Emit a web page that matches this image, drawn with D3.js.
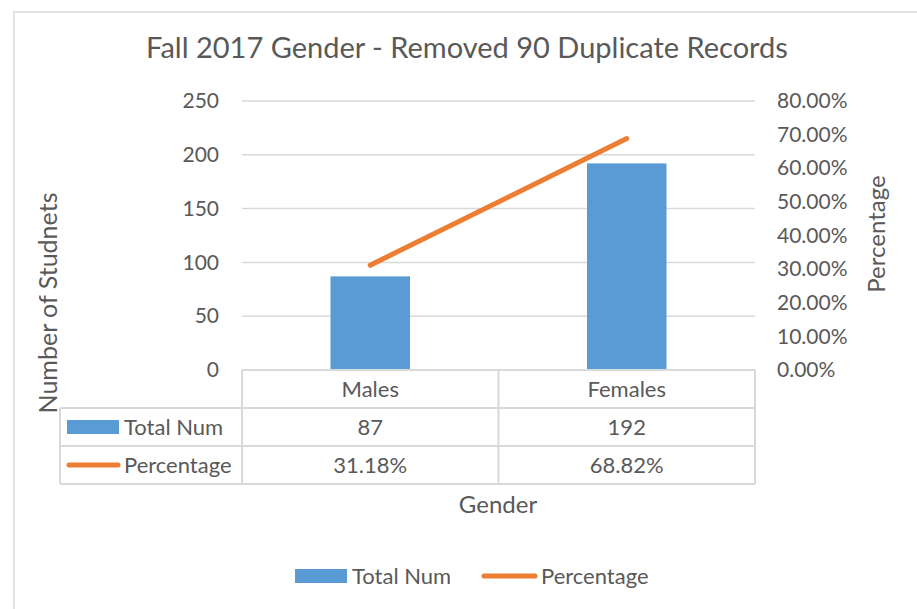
<!DOCTYPE html>
<html>
<head>
<meta charset="utf-8">
<script src="https://cdn.jsdelivr.net/npm/d3@7"></script>
<style>
  body { margin: 0; background: #fff; }
  text { font-family: Lato, "Open Sans", sans-serif; fill: #595959; }
</style>
</head>
<body>
<div class="gender-chart"></div>
<script>
const categories = ['Males', 'Females'];
const totalNum = [87, 192];
const percentage = [0.3118, 0.6882];
const countTicks = [0, 50, 100, 150, 200, 250];
const pctTicks = [0, 0.1, 0.2, 0.3, 0.4, 0.5, 0.6, 0.7, 0.8];
const seriesNames = ['Total Num', 'Percentage'];

const blue = '#5b9bd5';
const orange = '#ed7d31';
const grid = '#d9d9d9';

makeChart();

function makeChart() {
    const outerWidth = 917;
    const outerHeight = 609;
    const plot = {left: 242, right: 755, top: 101, bottom: 370};
    const rowH = 38;
    const tableLeft = 60;
    const labelSize = 22;

    const svg = d3.select('.gender-chart')
                .append('svg')
                .attr('width', outerWidth)
                .attr('height', outerHeight);

    // chart frame
    svg.append('rect')
        .attr('x', 14).attr('y', 12)
        .attr('width', 920).attr('height', 620)
        .attr('fill', 'white')
        .attr('stroke', grid)
        .attr('stroke-width', 1.5);

    const xScale = d3.scaleBand()
                .domain(categories)
                .range([plot.left, plot.right]);
    const yScale = d3.scaleLinear()
                .domain([0, 250])
                .range([plot.bottom, plot.top]);
    const y2Scale = d3.scaleLinear()
                .domain([0, 0.8])
                .range([plot.bottom, plot.top]);

    // gridlines
    svg.append('g')
        .selectAll('line')
        .data(countTicks.filter(d => d > 0))
        .join('line')
        .attr('x1', plot.left).attr('x2', plot.right)
        .attr('y1', d => yScale(d)).attr('y2', d => yScale(d))
        .attr('stroke', grid)
        .attr('stroke-width', 1.5);

    const yAxis = d3.axisLeft(yScale).tickValues(countTicks).tickSize(0).tickPadding(0);
    svg.append('g')
        .attr('transform', 'translate(219,0)')
        .call(yAxis)
        .call(g => g.select('.domain').remove())
        .call(g => g.selectAll('text').attr('font-size', 21).attr('fill', '#595959'));

    const y2Axis = d3.axisRight(y2Scale).tickValues(pctTicks).tickSize(0).tickPadding(0)
                .tickFormat(d => (d * 100).toFixed(2) + '%');
    svg.append('g')
        .attr('transform', 'translate(777,0)')
        .call(y2Axis)
        .call(g => g.select('.domain').remove())
        .call(g => g.selectAll('text').attr('font-size', 21).attr('fill', '#595959'));

    // bars
    const barW = xScale.bandwidth() * 0.31;
    svg.append('g')
        .selectAll('rect')
        .data(categories)
        .join('rect')
        .attr('x', d => xScale(d) + xScale.bandwidth() / 2 - barW / 2)
        .attr('width', barW)
        .attr('y', (d, i) => yScale(totalNum[i]))
        .attr('height', (d, i) => yScale(0) - yScale(totalNum[i]))
        .attr('fill', blue);

    // percentage line
    const line = d3.line()
                .x((d, i) => xScale(categories[i]) + xScale.bandwidth() / 2)
                .y(d => y2Scale(d));
    svg.append('path')
        .datum(percentage)
        .attr('fill', 'none')
        .attr('stroke', orange)
        .attr('stroke-width', 5)
        .attr('stroke-linecap', 'round')
        .attr('d', line);

    // data table
    const table = svg.append('g')
                .attr('fill', 'none')
                .attr('stroke', grid)
                .attr('stroke-width', 2);
    const yRows = [plot.bottom, plot.bottom + rowH, plot.bottom + rowH * 2, plot.bottom + rowH * 3];
    table.append('line').attr('x1', plot.left).attr('x2', plot.right).attr('y1', yRows[0]).attr('y2', yRows[0]);
    yRows.slice(1).forEach(y => {
        table.append('line').attr('x1', tableLeft).attr('x2', plot.right).attr('y1', y).attr('y2', y);
    });
    table.append('line').attr('x1', tableLeft).attr('x2', tableLeft).attr('y1', yRows[1]).attr('y2', yRows[3]);
    [plot.left, plot.left + xScale.bandwidth(), plot.right].forEach(x => {
        table.append('line').attr('x1', x).attr('x2', x).attr('y1', yRows[0]).attr('y2', yRows[3]);
    });

    const cellY = i => yRows[i] + rowH / 2;
    svg.append('g')
        .selectAll('text')
        .data(categories)
        .join('text')
        .attr('x', d => xScale(d) + xScale.bandwidth() / 2)
        .attr('y', cellY(0))
        .attr('dy', '0.35em')
        .attr('text-anchor', 'middle')
        .attr('font-size', labelSize)
        .text(d => d);
    svg.append('g')
        .selectAll('text')
        .data(totalNum)
        .join('text')
        .attr('x', (d, i) => xScale(categories[i]) + xScale.bandwidth() / 2)
        .attr('y', cellY(1))
        .attr('dy', '0.35em')
        .attr('text-anchor', 'middle')
        .attr('font-size', labelSize)
        .text(d => d);
    svg.append('g')
        .selectAll('text')
        .data(percentage)
        .join('text')
        .attr('x', (d, i) => xScale(categories[i]) + xScale.bandwidth() / 2)
        .attr('y', cellY(2))
        .attr('dy', '0.35em')
        .attr('text-anchor', 'middle')
        .attr('font-size', labelSize)
        .text(d => (d * 100).toFixed(2) + '%');

    // table legend keys
    svg.append('rect')
        .attr('x', 67).attr('y', cellY(1) - 7)
        .attr('width', 52).attr('height', 14)
        .attr('fill', blue);
    svg.append('line')
        .attr('x1', 69).attr('x2', 118)
        .attr('y1', cellY(2)).attr('y2', cellY(2))
        .attr('stroke', orange).attr('stroke-width', 5).attr('stroke-linecap', 'round');
    seriesNames.forEach((name, i) => {
        svg.append('text')
            .attr('x', 124).attr('y', cellY(i + 1))
            .attr('dy', '0.35em')
            .attr('font-size', labelSize)
            .text(name);
    });

    // titles
    svg.append('text')
        .attr('x', 467).attr('y', 48)
        .attr('dy', '0.35em')
        .attr('text-anchor', 'middle')
        .attr('font-size', 29)
        .text('Fall 2017 Gender - Removed 90 Duplicate Records');

    svg.append('text')
        .attr('transform', 'translate(48,303) rotate(-90)')
        .attr('dy', '0.35em')
        .attr('text-anchor', 'middle')
        .attr('font-size', 25)
        .text('Number of Studnets');

    svg.append('text')
        .attr('transform', 'translate(877,234) rotate(-90)')
        .attr('dy', '0.35em')
        .attr('text-anchor', 'middle')
        .attr('font-size', 24)
        .text('Percentage');

    svg.append('text')
        .attr('x', 498).attr('y', 505)
        .attr('dy', '0.35em')
        .attr('text-anchor', 'middle')
        .attr('font-size', 24)
        .text('Gender');

    // bottom legend
    svg.append('rect')
        .attr('x', 295).attr('y', 569)
        .attr('width', 52).attr('height', 14)
        .attr('fill', blue);
    svg.append('text')
        .attr('x', 352).attr('y', 576)
        .attr('dy', '0.35em')
        .attr('font-size', labelSize)
        .text(seriesNames[0]);
    svg.append('line')
        .attr('x1', 484).attr('x2', 535)
        .attr('y1', 576).attr('y2', 576)
        .attr('stroke', orange).attr('stroke-width', 5).attr('stroke-linecap', 'round');
    svg.append('text')
        .attr('x', 541).attr('y', 576)
        .attr('dy', '0.35em')
        .attr('font-size', labelSize)
        .text(seriesNames[1]);
}
</script>
</body>
</html>
